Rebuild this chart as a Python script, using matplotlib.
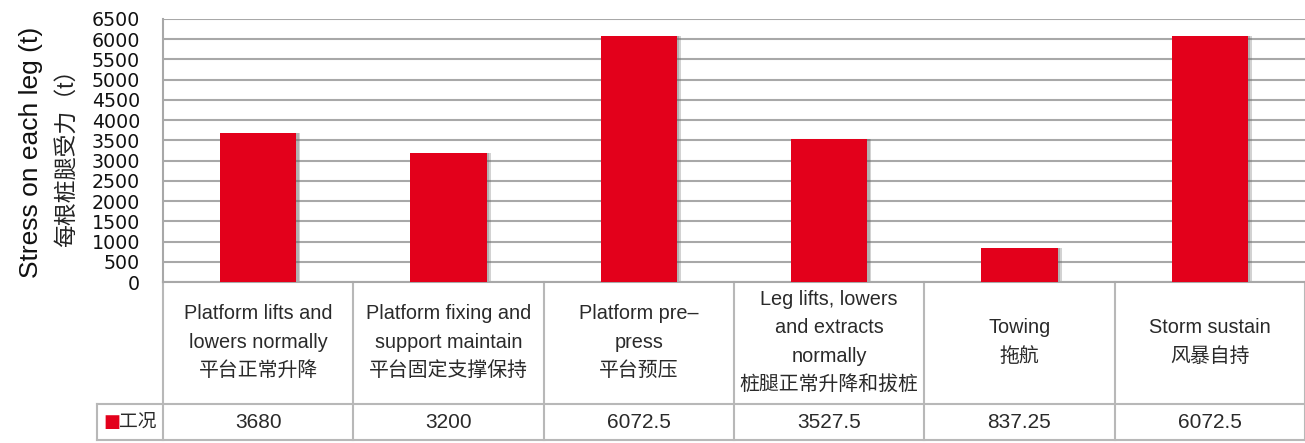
import matplotlib
matplotlib.use("Agg")
import matplotlib.pyplot as plt
from matplotlib.transforms import blended_transform_factory
from matplotlib.lines import Line2D

plt.rcParams['font.family'] = ['Liberation Sans', 'Noto Sans CJK SC', 'DejaVu Sans']

categories = [
    "Platform lifts and\nlowers normally\n平台正常升降",
    "Platform fixing and\nsupport maintain\n平台固定支撑保持",
    "Platform pre–\npress\n平台预压",
    "Leg lifts, lowers\nand extracts\nnormally\n桩腿正常升降和拔桩",
    "Towing\n拖航",
    "Storm sustain\n风暴自持",
]
values = [3680, 3200, 6072.5, 3527.5, 837.25, 6072.5]
value_labels = ["3680", "3200", "6072.5", "3527.5", "837.25", "6072.5"]
series_name = "工况"
yticks = list(range(0, 6501, 500))
ylabel_en = "Stress on each leg (t)"
ylabel_cn = "每根桩腿受力（t）"

W, H = 1305, 443
fig = plt.figure(figsize=(W / 100, H / 100), dpi=100)
fig.patch.set_facecolor("white")

ax_left, ax_right, ax_top, ax_bot = 163, 1305, 19, 282
ax = fig.add_axes([ax_left / W, 1 - ax_bot / H, (ax_right - ax_left) / W, (ax_bot - ax_top) / H])

x = list(range(len(values)))
grid_c = "#a8a8a8"
line_c = "#b8b8b8"
bar_c = "#e3001b"

ax.set_xlim(-0.5, len(values) - 0.5)
ax.set_ylim(0, 6500)
ax.set_yticks(yticks)
ax.set_yticklabels([str(t) for t in yticks], fontsize=13.7, color="#111111", family=["DejaVu Sans"])
ax.set_xticks([])
ax.tick_params(axis="y", length=0, pad=16.5)
ax.yaxis.grid(True, color=grid_c, linewidth=1.5, zorder=0)
ax.set_axisbelow(True)
for s in ["top", "right"]:
    ax.spines[s].set_visible(False)
for s in ["left", "bottom"]:
    ax.spines[s].set_color(grid_c)
    ax.spines[s].set_linewidth(1.5)

# shadow + bars
ax.bar([xi + 0.022 for xi in x], values, width=0.4, color="#6a6a6a", alpha=0.3, zorder=2, linewidth=0)
ax.bar([xi + 0.012 for xi in x], values, width=0.4, color="#6a6a6a", alpha=0.3, zorder=2, linewidth=0)
ax.bar(x, values, width=0.4, color=bar_c, zorder=3, linewidth=0)

# table below the axes
tr = blended_transform_factory(ax.transData, ax.transAxes)
axh = ax_bot - ax_top
colw = (ax_right - ax_left) / len(values)
y_mid = -(404 - ax_bot) / axh
y_low = -(440 - ax_bot) / axh
x_hdr = -0.5 - (ax_left - 97) / colw

for i in range(len(values) + 1):
    ax.add_line(Line2D([i - 0.5, i - 0.5], [0, y_low], transform=tr, color=line_c, lw=1.5, clip_on=False))
for yy in (y_mid, y_low):
    ax.add_line(Line2D([x_hdr, len(values) - 0.5], [yy, yy], transform=tr, color=line_c, lw=1.5, clip_on=False))
ax.add_line(Line2D([x_hdr, x_hdr], [y_mid, y_low], transform=tr, color=line_c, lw=1.5, clip_on=False))

y_cat = -(342 - ax_bot) / axh
y_val = -(422 - ax_bot) / axh
for i, (lab, vl) in enumerate(zip(categories, value_labels)):
    ax.text(i, y_cat, lab, transform=tr, ha="center", va="center", fontsize=14.3,
            color="#2a2a2a", linespacing=1.62)
    ax.text(i, y_val, vl, transform=tr, ha="center", va="center", fontsize=15, color="#2a2a2a")

# legend cell
ax.text(x_hdr + 0.035, y_val, "■", transform=tr, ha="left", va="center", fontsize=13,
        color=bar_c, family=["DejaVu Sans"])
ax.text(x_hdr + 0.115, y_val, series_name, transform=tr, ha="left", va="center",
        fontsize=13.5, color="#2a2a2a")

# y labels
yc = 1 - ((ax_top + ax_bot) / 2 + 2) / H
fig.text(31 / W, yc, ylabel_en, rotation=90, ha="center", va="center", fontsize=19, color="#111111")
fig.text(66 / W, yc, ylabel_cn, rotation=90, ha="center", va="center", fontsize=16.5, color="#222222")

fig.savefig("out.png", dpi=100, facecolor="white")
